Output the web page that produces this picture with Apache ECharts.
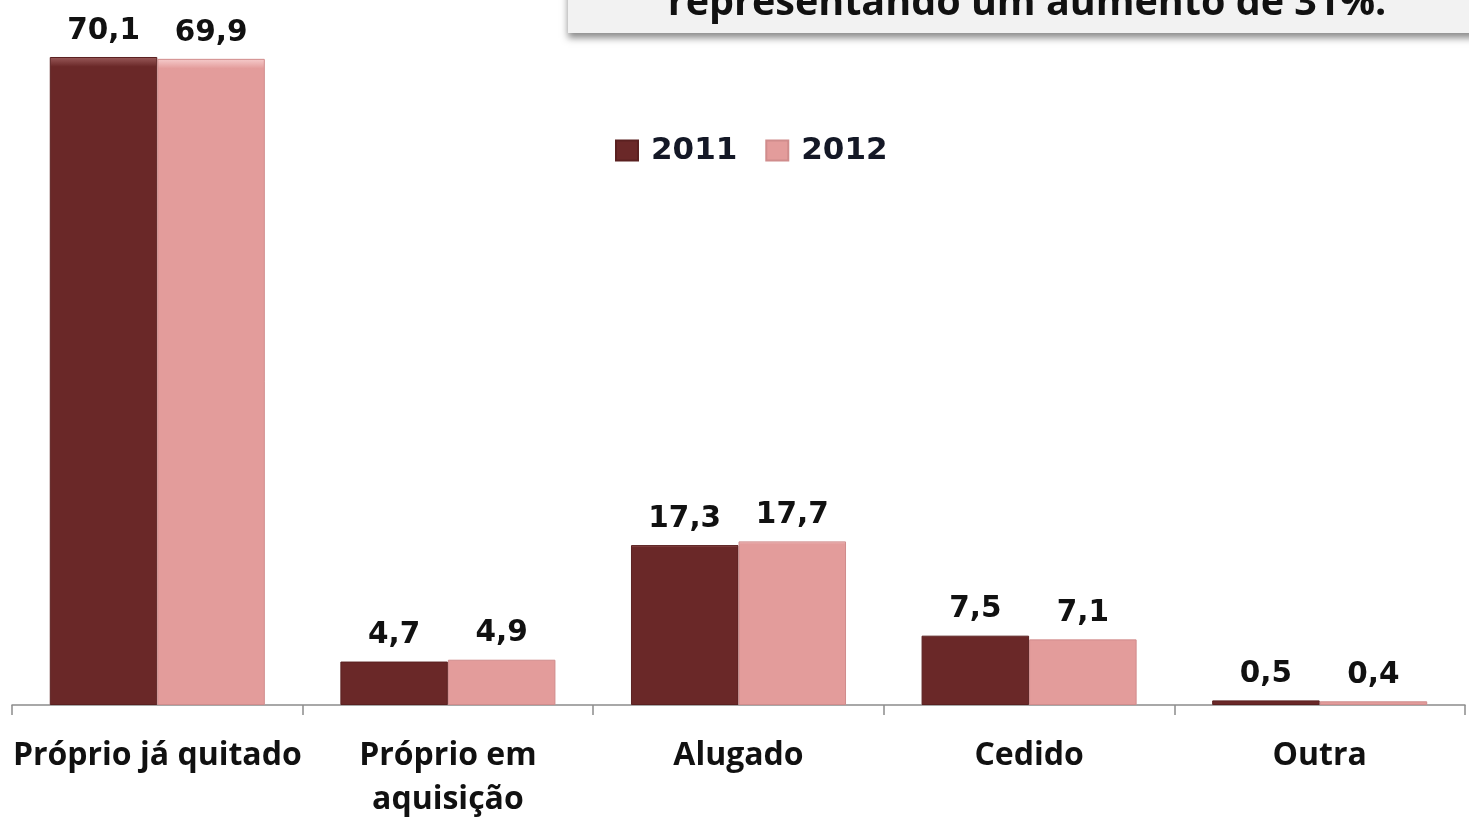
<!DOCTYPE html>
<html>
<head>
<meta charset="utf-8">
<script src="https://cdn.jsdelivr.net/npm/echarts@6/dist/echarts.min.js"></script>
<style>
  html, body { margin: 0; padding: 0; background: #ffffff; }
  #chart { width: 1469px; height: 822px; }
</style>
</head>
<body>
<div id="chart"></div>
<script>
// Condição de ocupação do domicílio (%)
const categories = ['Próprio já quitado', 'Próprio em\naquisição', 'Alugado', 'Cedido', 'Outra'];
const seriesNames = ['2011', '2012'];
const values2011 = [70.1, 4.7, 17.3, 7.5, 0.5];
const values2012 = [69.9, 4.9, 17.7, 7.1, 0.4];
const noteText = 'representando um aumento de 31%.';

const fmt = p => String(p.value).replace('.', ',');

// soft vertical shading with a lighter top edge
function shade(base, light) {
  return new echarts.graphic.LinearGradient(0, 0, 0, 1, [
    { offset: 0, color: light },
    { offset: 0.015, color: base },
    { offset: 1, color: base }
  ]);
}

const labelStyle = {
  show: true, position: 'top', distance: 11, formatter: fmt,
  fontFamily: 'DejaVu Sans', fontWeight: 'bold', fontSize: 29.5, color: '#111111'
};

const chart = echarts.init(document.getElementById('chart'));
chart.setOption({
  backgroundColor: '#ffffff',
  animation: false,
  grid: { left: 12, right: 4, top: 11.7, bottom: 117, containLabel: false },
  legend: {
    data: seriesNames,
    left: 610,
    top: 130,
    itemWidth: 22,
    itemHeight: 20,
    itemGap: 28,
    icon: 'rect',
    textStyle: {
      fontFamily: 'DejaVu Sans', fontWeight: 'bold', fontSize: 31, color: '#141826',
      padding: [0, 0, 0, 8]
    }
  },
  xAxis: {
    type: 'category',
    data: categories,
    axisLine: { lineStyle: { color: '#8c8c8c', width: 1.5 } },
    axisTick: { show: true, length: 10, lineStyle: { color: '#8c8c8c', width: 1.5 } },
    axisLabel: {
      interval: 0,
      margin: 29,
      fontFamily: 'Open Sans',
      fontWeight: 'bold',
      fontSize: 32,
      lineHeight: 44,
      color: '#111111'
    }
  },
  yAxis: {
    type: 'value',
    min: 0,
    max: 75,
    show: false,
    splitLine: { show: false }
  },
  series: [
    {
      name: seriesNames[0],
      type: 'bar',
      data: values2011,
      barGap: '0%',
      barCategoryGap: '26%',
      itemStyle: { color: shade('#6a2828', '#9a5a5a'), borderColor: '#5a2020', borderWidth: 1 },
      label: labelStyle
    },
    {
      name: seriesNames[1],
      type: 'bar',
      data: values2012,
      itemStyle: { color: shade('#e39c9b', '#f6cccc'), borderColor: '#d08c8c', borderWidth: 1 },
      label: labelStyle
    }
  ],
  graphic: [
    {
      type: 'rect',
      left: 568, top: -15,
      shape: { width: 920, height: 48 },
      style: { fill: '#f2f2f2', shadowBlur: 7, shadowOffsetY: 5, shadowColor: 'rgba(0,0,0,0.45)' },
      z: 10
    },
    {
      type: 'text',
      x: 1027, y: 23.5,
      style: {
        text: noteText,
        fontFamily: 'Open Sans', fontWeight: 'bold', fontSize: 39.5, fill: '#111111',
        align: 'center', verticalAlign: 'bottom'
      },
      z: 11
    }
  ]
});
</script>
</body>
</html>
